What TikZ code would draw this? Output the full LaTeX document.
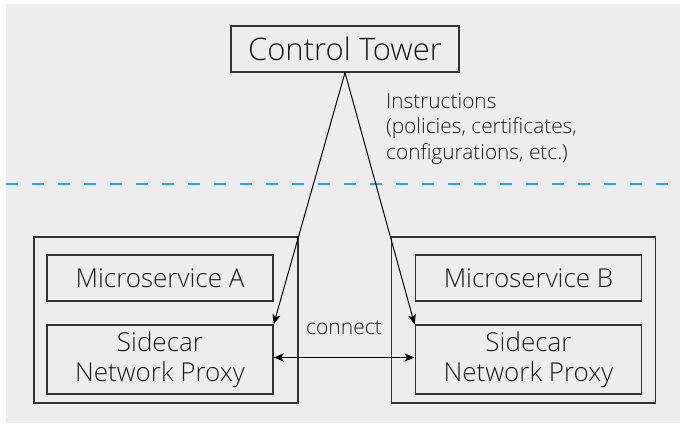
\documentclass[tikz,border=0pt]{standalone}
\usepackage{fontspec}
\setmainfont{Open Sans}[UprightFont=* Light]
\usetikzlibrary{arrows.meta}
\definecolor{bg}{HTML}{EDEDED}
\definecolor{edge}{HTML}{333333}
\definecolor{ink}{HTML}{1A1A1A}
\definecolor{sky}{HTML}{1AAFDF}
\tikzset{
  box/.style={draw=edge, line width=1.3pt, inner sep=0pt, align=center, text=ink},
  lbl/.style={inner sep=0pt, text=ink},
  arr/.style={draw=black, line width=1pt, -{Stealth[length=10pt,width=8pt,inset=2.5pt]}},
  darr/.style={draw=black, line width=1pt, {Stealth[length=10pt,width=8pt,inset=2.5pt]}-{Stealth[length=10pt,width=8pt,inset=2.5pt]}}
}
\begin{document}
\begin{tikzpicture}[x=1pt,y=-1pt]
\useasboundingbox (0,0) rectangle (680,423);
\fill[bg] (6,4) rectangle (680,423);
\draw[sky, line width=2.8pt, dash pattern=on 12pt off 14pt] (6,184) -- (668,184);
% control tower
\node[box, minimum width=228pt, minimum height=46pt, font=\fontsize{31}{36}\selectfont] (ct) at (345,49) {Control Tower};
% left service
\node[box, minimum width=264pt, minimum height=166pt] (oa) at (166,320) {};
\node[box, minimum width=226pt, minimum height=46pt, font=\fontsize{26}{30}\selectfont] (ma) at (160,278) {Microservice A};
\node[box, minimum width=226pt, minimum height=69pt, font=\fontsize{26}{30}\selectfont] (sa) at (160,359.5) {Sidecar\\Network Proxy};
% right service
\node[box, minimum width=263.5pt, minimum height=166pt] (ob) at (523.5,320) {};
\node[box, minimum width=226.5pt, minimum height=46pt, font=\fontsize{26}{30}\selectfont] (mb) at (528.5,278) {Microservice B};
\node[box, minimum width=226.5pt, minimum height=69pt, font=\fontsize{26}{30}\selectfont] (sb) at (528.5,359.5) {Sidecar\\Network Proxy};
% labels
\node[lbl, anchor=north west, align=left, font=\fontsize{20.8}{25.5}\selectfont] (ins) at (386,93.2) {Instructions\\(policies, certificates,\\configurations, etc.)};
\node[lbl, font=\fontsize{21}{24}\selectfont] (con) at (344,328) {connect};
% connectors
\draw[arr] (ct.south) -- (sa.north east);
\draw[arr] (ct.south) -- (sb.north west);
\draw[darr] ([yshift=2pt]sa.east) -- ([yshift=2pt]sb.west);
\end{tikzpicture}
\end{document}
